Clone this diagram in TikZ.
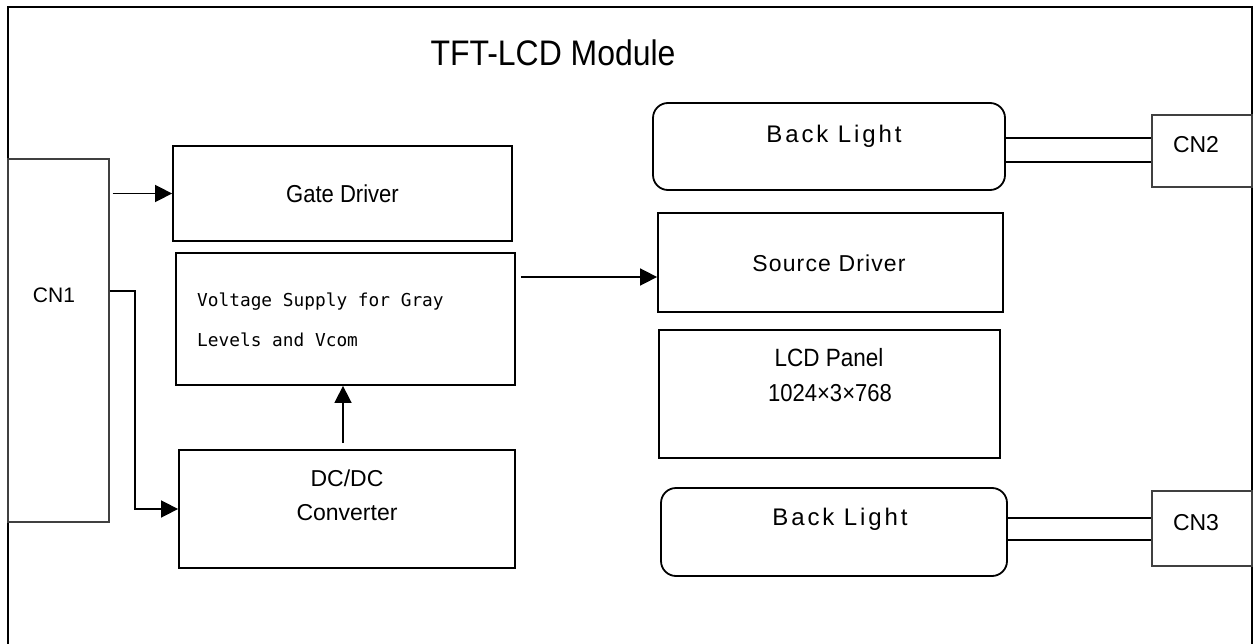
\documentclass[tikz,border=0pt]{standalone}
\usepackage{fontspec}
\setmainfont{Liberation Sans}
\newfontfamily\nsans[FakeStretch=0.9]{Liberation Sans}
\newfontfamily\blsans[LetterSpace=12]{Liberation Sans}
\newfontfamily\srcsans[LetterSpace=5]{Liberation Sans}
\newfontfamily\monof{DejaVu Sans Mono}
\usetikzlibrary{arrows.meta,calc}
\begin{document}
\begin{tikzpicture}[x=1pt,y=-1pt,
  box/.style={draw,line width=1.8pt,inner sep=0pt},
  rbox/.style={box,rounded corners=15pt},
  cnbox/.style={draw=black!75,line width=1.4pt,inner sep=0pt},
  txt/.style={inner sep=0pt,anchor=base},
  arr/.style={line width=1.6pt,-{Triangle[length=17pt,width=17pt]}},
  wire/.style={line width=1.5pt}]
\useasboundingbox (0,0) rectangle (1260,644);
% frame
\draw[line width=1.8pt] (8,644) -- (8,7) -- (1252,7) -- (1252,644);
\node[txt,font=\nsans\fontsize{35.5}{40}\selectfont] (title) at (553,66) {TFT-LCD Module};
% left column
\node[cnbox,minimum width=101pt,minimum height=363pt] (cn1) at (58.5,340.5) {};
\node[txt,font=\fontsize{21}{24}\selectfont] (cn1t) at (54,302.5) {CN1};
\node[box,minimum width=339pt,minimum height=95pt] (gate) at (342.5,193.5) {};
\node[txt,font=\nsans\fontsize{24.5}{28}\selectfont] (gatet) at (342.5,202.5) {Gate Driver};
\node[box,minimum width=339pt,minimum height=132pt] (volt) at (345.5,319) {};
\node[txt,anchor=base west,font=\monof\fontsize{17.8}{20}\selectfont] (volt1) at (197,306.5) {Voltage Supply for Gray};
\node[txt,anchor=base west,font=\monof\fontsize{17.8}{20}\selectfont] (volt2) at (197,346.5) {Levels and Vcom};
\node[box,minimum width=336pt,minimum height=118pt] (dc) at (347,509) {};
\node[txt,font=\fontsize{23}{26}\selectfont] (dct1) at (347,486.5) {DC/DC};
\node[txt,font=\fontsize{23}{26}\selectfont] (dct2) at (347,520.5) {Converter};
% right column
\node[rbox,minimum width=352pt,minimum height=87pt] (bl1) at (829,146.5) {};
\node[txt,font=\blsans\fontsize{24}{28}\selectfont] (bl1t) at (834,143) {Back Light};
\node[box,minimum width=345pt,minimum height=99pt] (src) at (830.5,262.5) {};
\node[txt,font=\srcsans\fontsize{23}{26}\selectfont] (srct) at (829,271.5) {Source Driver};
\node[box,minimum width=341pt,minimum height=128pt] (lcd) at (829.5,394) {};
\node[txt,font=\nsans\fontsize{25}{28}\selectfont] (lcdt1) at (829,366) {LCD Panel};
\node[txt,font=\nsans\fontsize{24.5}{28}\selectfont] (lcdt2) at (830,401) {1024×3×768};
\node[rbox,minimum width=346pt,minimum height=88pt] (bl2) at (834,532) {};
\node[txt,font=\blsans\fontsize{24}{28}\selectfont] (bl2t) at (840,525) {Back Light};
\node[cnbox,minimum width=100pt,minimum height=72pt] (cn2) at (1202,151) {};
\node[txt,font=\fontsize{23}{26}\selectfont] (cn2t) at (1196,153) {CN2};
\node[cnbox,minimum width=100pt,minimum height=75pt] (cn3) at (1202,528.5) {};
\node[txt,font=\fontsize{23}{26}\selectfont] (cn3t) at (1196,530) {CN3};
% connectors
\draw[arr] ($(cn1.east |- gate.west)+(3,0)$) -- (gate.west);
\draw[arr] (cn1.east |- 0,291) -| (135,509) -- (dc.west);
\draw[arr] ($(dc.north)+(-4,-6)$) -- (volt.south -| 343,0);
\draw[arr] ($(volt.east |- 0,277)+(5,0)$) -- (src.west |- 0,277);
\draw[wire] (bl1.east |- 0,138) -- (cn2.west |- 0,138);
\draw[wire] (bl1.east |- 0,162) -- (cn2.west |- 0,162);
\draw[wire] (bl2.east |- 0,518) -- (cn3.west |- 0,518);
\draw[wire] (bl2.east |- 0,540) -- (cn3.west |- 0,540);
\end{tikzpicture}
\end{document}
